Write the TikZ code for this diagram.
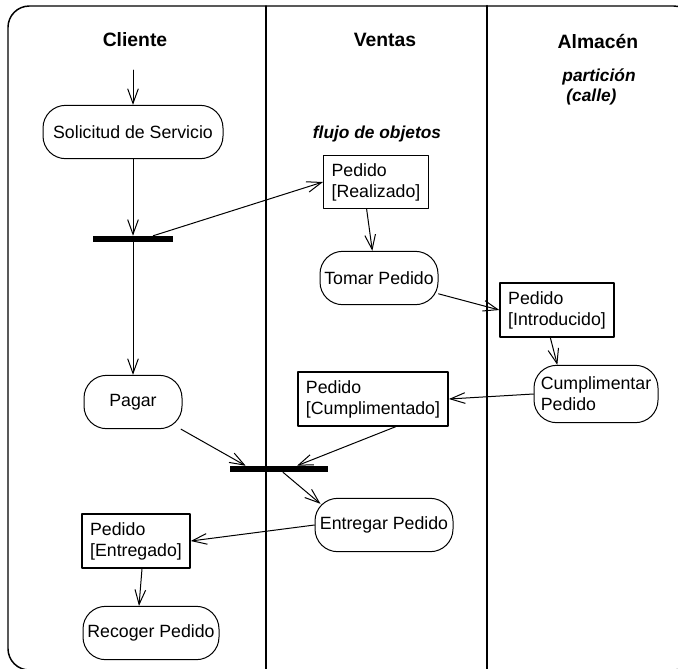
\documentclass[tikz,border=0pt]{standalone}
\usepackage{fontspec}
\setmainfont{Liberation Sans}
\usepackage{tikz}
\usetikzlibrary{arrows.meta}

\begin{document}
\begin{tikzpicture}[line cap=round,line join=round,x=0.75pt,y=-0.75pt,
	actividad/.style={draw,line width=0.75pt,rectangle,rounded corners=17pt,minimum height=40pt,inner xsep=1pt,font=\fontsize{13.3}{15.75}\selectfont},
	objeto/.style={draw,line width=1pt,rectangle,align=left,inner xsep=6pt,inner ysep=6pt,font=\fontsize{13.3}{15.75}\selectfont},
	barra/.style={fill=black,minimum width=60pt,minimum height=4.5pt,inner sep=0pt},
	flecha/.style={-{Straight Barb[length=11pt,width=8pt]},line width=0.75pt},
	carril/.style={font=\fontsize{14.5}{17}\selectfont\bfseries},
	nota/.style={font=\fontsize{13}{15}\selectfont\bfseries\itshape}]
						\useasboundingbox (0,0) rectangle (678,668);
						% Marco y calles
						\draw[line width=1.1pt,rounded corners=16pt] (8,6) rectangle (695,670);
						\draw[line width=1.1pt] (266,6) -- (266,670);
						\draw[line width=1.6pt] (487,6) -- (487,670);
						\node[carril] (cliente) at (135,40) {Cliente};
						\node[carril] (ventas) at (385,40) {Ventas};
						\node[carril] (almacen) at (598,42) {Almacén};
						\node[nota,align=left] (particion) at (599,87) {partición\\\hspace{3pt}(calle)};
						\node[nota] (flujo) at (377,134) {flujo de objetos};
						% Nodos
						\coordinate (inicio) at (133,70);
						\node[actividad,minimum width=135pt] (solicitud) at (133,132) {Solicitud de Servicio};
						\node[barra] (fork1) at (133,239) {};
						\node[objeto] (realizado) at (376,182) {Pedido\\{[Realizado]}};
						\node[actividad,minimum width=88.5pt] (tomar) at (379,278) {Tomar Pedido};
						\node[objeto,line width=1.4pt] (introducido) at (557,310) {Pedido\\{[Introducido]}};
						\node[actividad,align=left,minimum width=93pt,minimum height=43pt] (cumplimentar) at (596,394) {Cumplimentar\\Pedido};
						\node[actividad,minimum width=73.5pt] (pagar) at (133,402) {Pagar};
						\node[objeto,line width=1.4pt] (cumplimentado) at (373,399) {Pedido\\{[Cumplimentado]}};
						\node[barra,minimum width=73.5pt] (fork2) at (279,469) {};
						\node[actividad,minimum width=103.5pt] (entregar) at (384,525) {Entregar Pedido};
						\node[objeto,line width=1.4pt] (entregado) at (136,541) {Pedido\\{[Entregado]}};
						\node[actividad,minimum width=102pt] (recoger) at (151,633) {Recoger Pedido};
						% Flechas
						\draw[flecha] (inicio) -- (solicitud);
						\draw[flecha] (solicitud) -- (fork1.north);
						\draw[flecha] (fork1.south) -- (pagar);
						\draw[flecha] ([xshift=-15pt]fork1.north east) -- (realizado.west);
						\draw[flecha] ([xshift=-7pt]realizado.south) -- ([xshift=-5pt]tomar.north);
						\draw[flecha] (tomar) -- (introducido.west);
						\draw[flecha] ([xshift=-5pt]introducido.south) -- ([xshift=-29pt]cumplimentar.north);
						\draw[flecha] (cumplimentar.west) -- (cumplimentado.east);
						\draw[flecha] ([xshift=17pt]cumplimentado.south) -- ([xshift=13.5pt]fork2.north);
						\draw[flecha] (pagar) -- ([xshift=-25pt]fork2.north);
						\draw[flecha] ([xshift=3pt]fork2.south) -- ([shift={(6,6)}]entregar.north west);
						\draw[flecha] (entregar.west) -- (entregado.east);
						\draw[flecha] ([xshift=4.5pt]entregado.south) -- ([xshift=-9pt]recoger.north);
					\end{tikzpicture}
\end{document}
